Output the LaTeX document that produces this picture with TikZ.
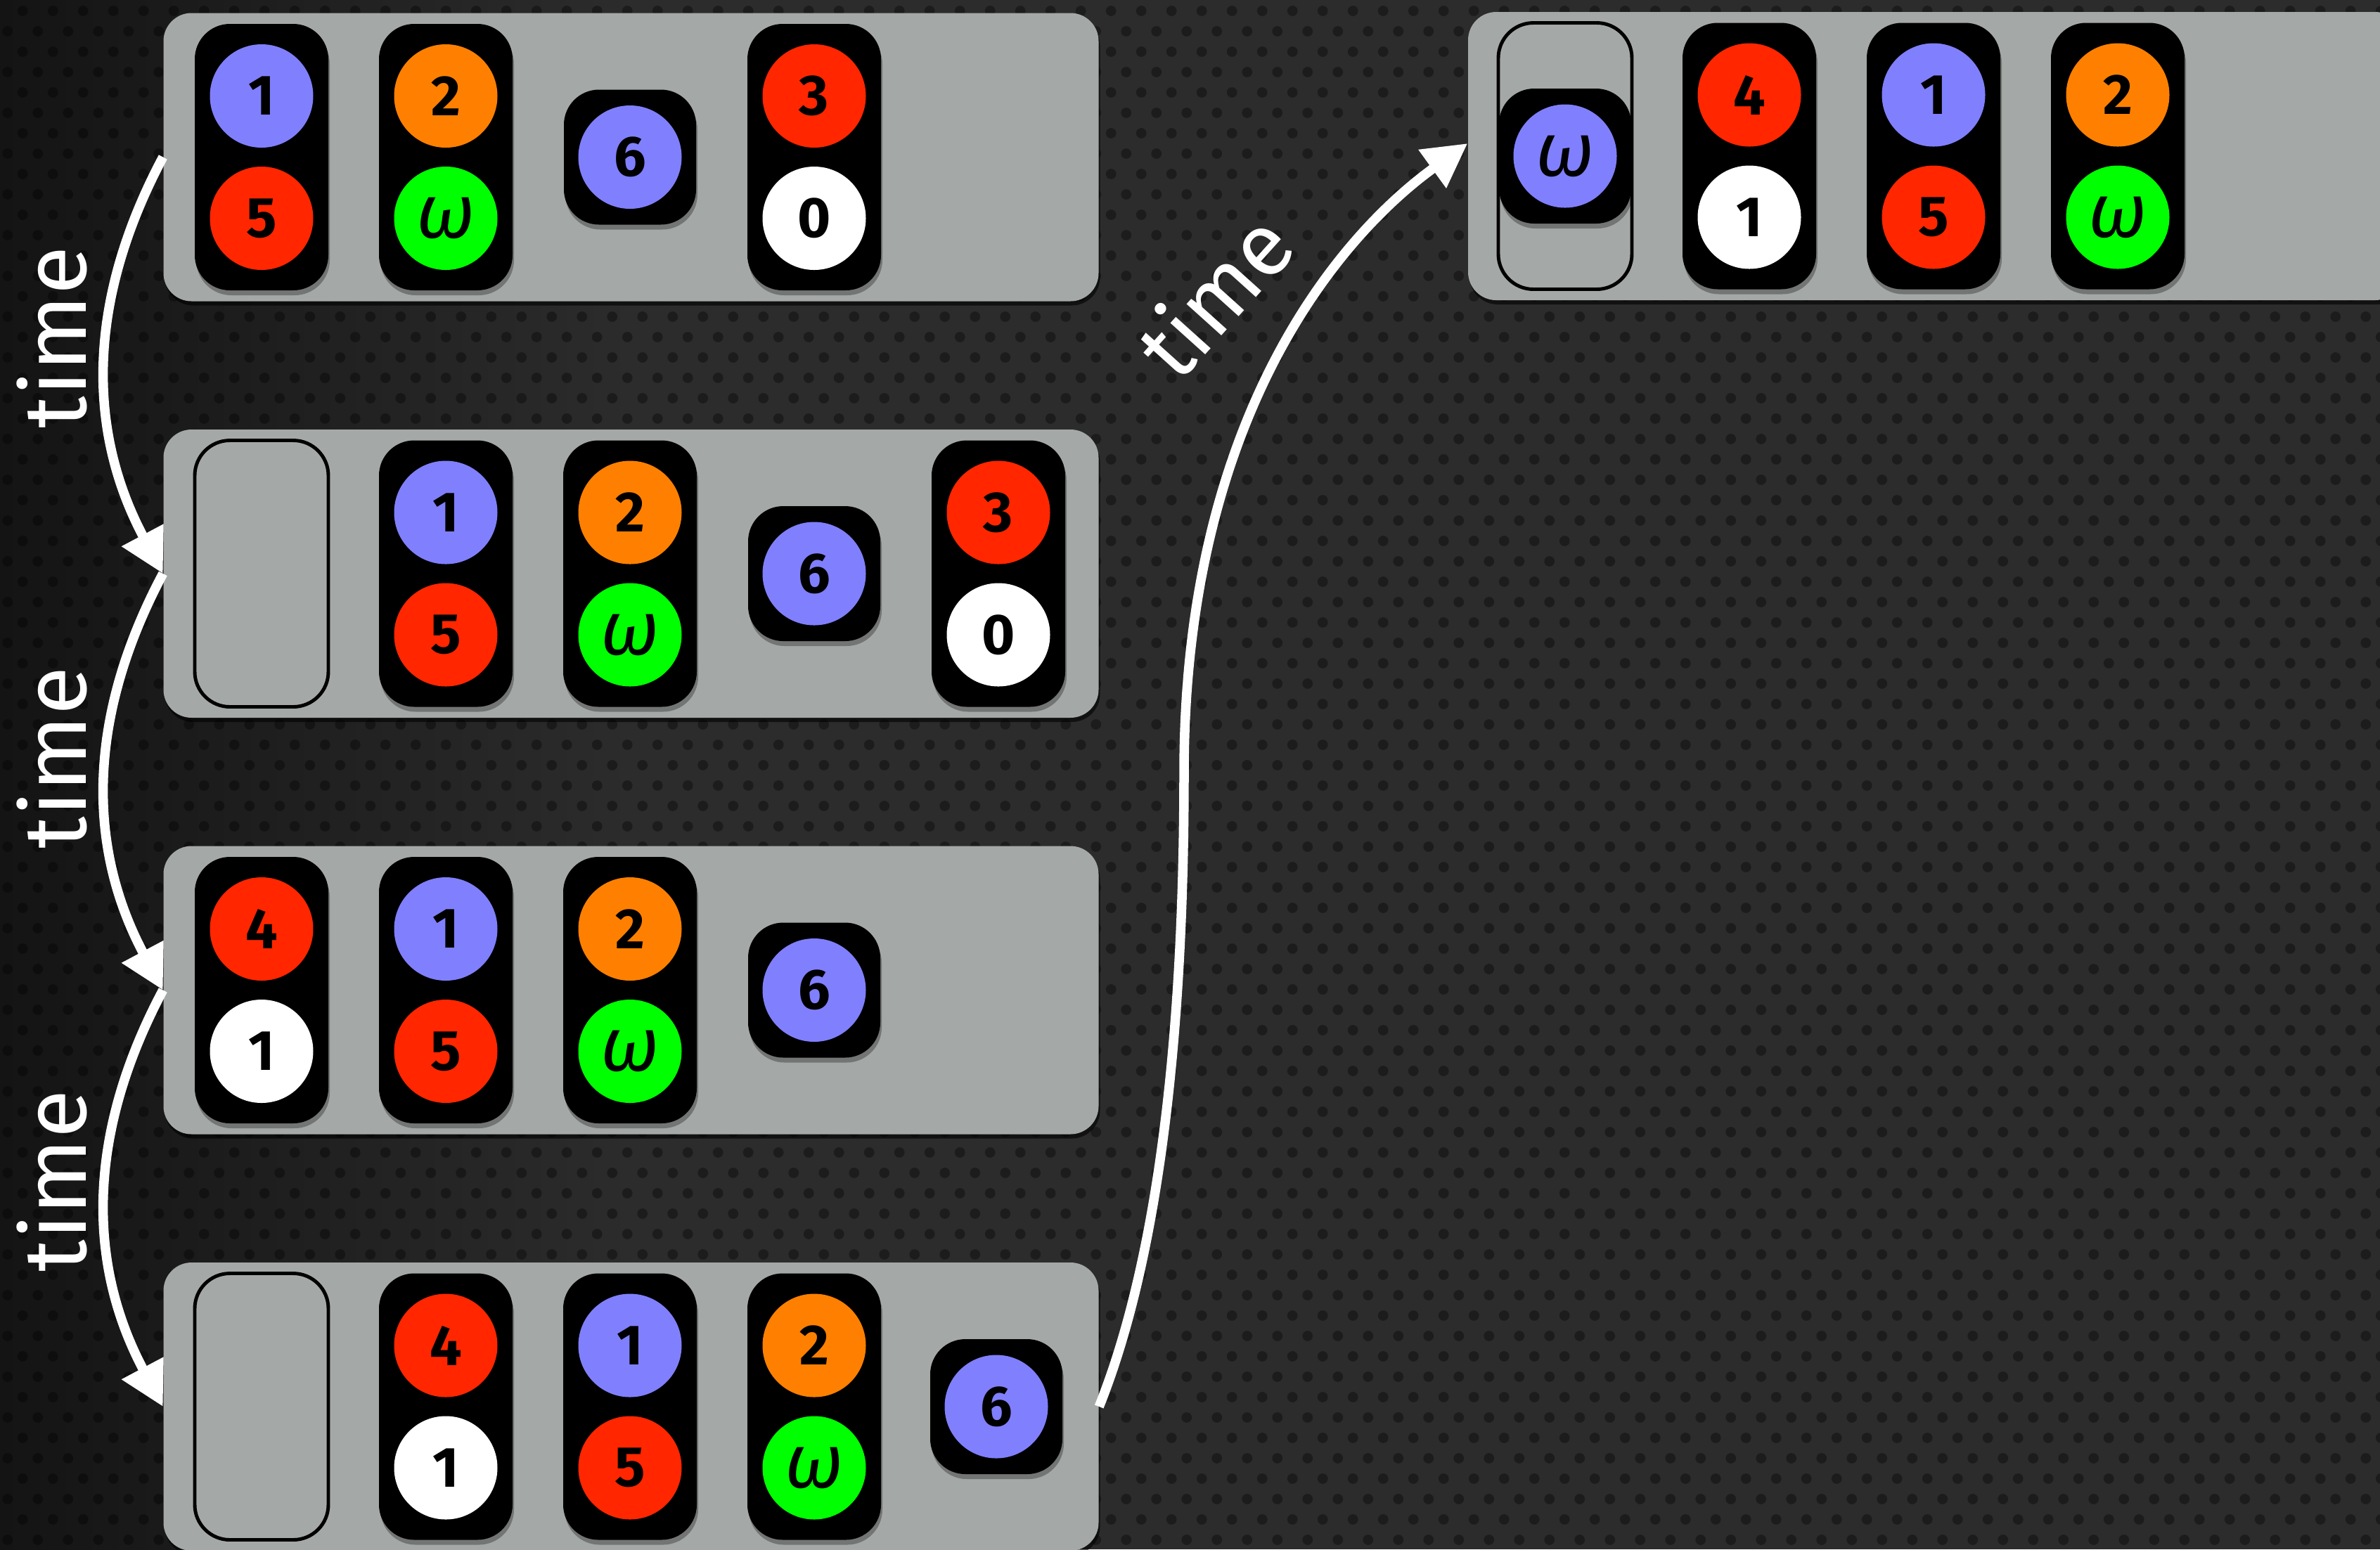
\documentclass[tikz,border=0pt]{standalone}
\usepackage{fontspec}
\setmainfont{Fira Sans}
\usetikzlibrary{positioning}
\usetikzlibrary{shadows, arrows.meta, patterns}

\definecolor{bgdark}{RGB}{20,20,20}
\definecolor{bgmid}{RGB}{44,44,44}
\definecolor{panelgray}{RGB}{164,168,166}
\definecolor{lav}{RGB}{128,128,255}
\definecolor{tomato}{RGB}{255,38,0}
\definecolor{amber}{RGB}{255,128,0}
\definecolor{lime}{RGB}{0,255,0}

\pgfdeclarepatternformonly{holes}{\pgfqpoint{0pt}{0pt}}{\pgfqpoint{12.23pt}{16.5pt}}{\pgfqpoint{12.23pt}{16.5pt}}{
\pgfpathcircle{\pgfqpoint{3.06pt}{4.13pt}}{2.1pt}
\pgfpathcircle{\pgfqpoint{9.17pt}{12.38pt}}{2.1pt}
\pgfusepath{fill}}

\newcommand{\om}{{\fontsize{31}{31}\selectfont\mdseries\itshape ω}}

\tikzset{
panel/.style={fill=panelgray, rounded corners=0.4cm, minimum width=13.3cm, minimum height=4.1cm, inner sep=0pt, drop shadow={shadow xshift=0.02cm, shadow yshift=-0.06cm, opacity=0.6, fill=black}},
tube/.style={fill=black, rounded corners=0.5cm, minimum width=1.9cm, minimum height=3.79cm, inner sep=0pt, drop shadow={shadow xshift=0.02cm, shadow yshift=-0.07cm, opacity=0.3, fill=black}},
chip/.style={tube, minimum width=1.88cm, minimum height=1.92cm},
hole/.style={draw=black, line width=1.4pt, rounded corners=0.5cm, minimum width=1.9cm, minimum height=3.79cm, inner sep=0pt},
ball/.style={circle, minimum size=1.47cm, inner sep=0pt, text=black, font=\fontsize{23}{23}\selectfont\bfseries},
flow/.style={draw=white, line width=0.135cm, -{Triangle[length=0.62cm, width=0.64cm]}},
tlabel/.style={text=white, font=\fontsize{36}{36}\selectfont, inner sep=0pt, anchor=base}
}

\begin{document}
\begin{tikzpicture}
\useasboundingbox (0,0) rectangle (33.85,-22.04);
\clip (0,0) rectangle (33.85,-22.04);
\fill[bgmid] (0,0) rectangle (33.85,-22.04);
\shade[left color=bgdark, right color=bgmid] (0,0) rectangle (9,-22.04);
\fill[pattern=holes, pattern color=black, fill opacity=0.35] (0,0) rectangle (33.85,-22.04);

\node[panel] (P1) at (8.975,-2.235) {};
\node[panel] (P2) at (8.975,-8.16) {};
\node[panel] (P3) at (8.975,-14.085) {};
\node[panel] (P4) at (8.975,-20.01) {};
\node[panel] (P5) at (27.53,-2.22) {};

\node[tube] (P1a) at (3.72,-2.235) {};
\node[ball, fill=lav] (P1a1) at ([yshift=0.87cm]P1a.center) {1};
\node[ball, fill=tomato] (P1a2) at ([yshift=-0.87cm]P1a.center) {5};
\node[tube] (P1b) at (6.34,-2.235) {};
\node[ball, fill=amber] (P1b1) at ([yshift=0.87cm]P1b.center) {2};
\node[ball, fill=lime] (P1b2) at ([yshift=-0.87cm]P1b.center) {\om};
\node[chip] (P1c) at (8.96,-2.235) {};
\node[ball, fill=lav] (P1c1) at (P1c.center) {6};
\node[tube] (P1d) at (11.58,-2.235) {};
\node[ball, fill=tomato] (P1d1) at ([yshift=0.87cm]P1d.center) {3};
\node[ball, fill=white] (P1d2) at ([yshift=-0.87cm]P1d.center) {0};

\node[hole] (P2a) at (3.72,-8.16) {};
\node[tube] (P2b) at (6.34,-8.16) {};
\node[ball, fill=lav] (P2b1) at ([yshift=0.87cm]P2b.center) {1};
\node[ball, fill=tomato] (P2b2) at ([yshift=-0.87cm]P2b.center) {5};
\node[tube] (P2c) at (8.96,-8.16) {};
\node[ball, fill=amber] (P2c1) at ([yshift=0.87cm]P2c.center) {2};
\node[ball, fill=lime] (P2c2) at ([yshift=-0.87cm]P2c.center) {\om};
\node[chip] (P2d) at (11.58,-8.16) {};
\node[ball, fill=lav] (P2d1) at (P2d.center) {6};
\node[tube] (P2e) at (14.20,-8.16) {};
\node[ball, fill=tomato] (P2e1) at ([yshift=0.87cm]P2e.center) {3};
\node[ball, fill=white] (P2e2) at ([yshift=-0.87cm]P2e.center) {0};

\node[tube] (P3a) at (3.72,-14.085) {};
\node[ball, fill=tomato] (P3a1) at ([yshift=0.87cm]P3a.center) {4};
\node[ball, fill=white] (P3a2) at ([yshift=-0.87cm]P3a.center) {1};
\node[tube] (P3b) at (6.34,-14.085) {};
\node[ball, fill=lav] (P3b1) at ([yshift=0.87cm]P3b.center) {1};
\node[ball, fill=tomato] (P3b2) at ([yshift=-0.87cm]P3b.center) {5};
\node[tube] (P3c) at (8.96,-14.085) {};
\node[ball, fill=amber] (P3c1) at ([yshift=0.87cm]P3c.center) {2};
\node[ball, fill=lime] (P3c2) at ([yshift=-0.87cm]P3c.center) {\om};
\node[chip] (P3d) at (11.58,-14.085) {};
\node[ball, fill=lav] (P3d1) at (P3d.center) {6};

\node[hole] (P4a) at (3.72,-20.01) {};
\node[tube] (P4b) at (6.34,-20.01) {};
\node[ball, fill=tomato] (P4b1) at ([yshift=0.87cm]P4b.center) {4};
\node[ball, fill=white] (P4b2) at ([yshift=-0.87cm]P4b.center) {1};
\node[tube] (P4c) at (8.96,-20.01) {};
\node[ball, fill=lav] (P4c1) at ([yshift=0.87cm]P4c.center) {1};
\node[ball, fill=tomato] (P4c2) at ([yshift=-0.87cm]P4c.center) {5};
\node[tube] (P4d) at (11.58,-20.01) {};
\node[ball, fill=amber] (P4d1) at ([yshift=0.87cm]P4d.center) {2};
\node[ball, fill=lime] (P4d2) at ([yshift=-0.87cm]P4d.center) {\om};
\node[chip] (P4e) at (14.17,-20.01) {};
\node[ball, fill=lav] (P4e1) at (P4e.center) {6};

\node[hole] (P5a) at (22.26,-2.22) {};
\node[chip] (P5w) at (22.26,-2.22) {};
\node[ball, fill=lav] (P5w1) at (P5w.center) {\om};
\node[tube] (P5b) at (24.88,-2.22) {};
\node[ball, fill=tomato] (P5b1) at ([yshift=0.87cm]P5b.center) {4};
\node[ball, fill=white] (P5b2) at ([yshift=-0.87cm]P5b.center) {1};
\node[tube] (P5c) at (27.50,-2.22) {};
\node[ball, fill=lav] (P5c1) at ([yshift=0.87cm]P5c.center) {1};
\node[ball, fill=tomato] (P5c2) at ([yshift=-0.87cm]P5c.center) {5};
\node[tube] (P5d) at (30.12,-2.22) {};
\node[ball, fill=amber] (P5d1) at ([yshift=0.87cm]P5d.center) {2};
\node[ball, fill=lime] (P5d2) at ([yshift=-0.87cm]P5d.center) {\om};

\draw[flow] (P1.west) to[out=242,in=118] (P2.west);
\draw[flow] (P2.west) to[out=242,in=118] (P3.west);
\draw[flow] (P3.west) to[out=242,in=118] (P4.west);
\coordinate (bend) at (16.84,-11.00);
\draw[flow] (P4.east) .. controls +(0.79,1.97) and +(0,-4.0) .. (bend) .. controls +(0,5.0) and +(-1.88,-1.36) .. ([yshift=0.18cm]P5.west);

\node[tlabel, rotate=90] (T1) at (1.22,-4.80) {time};
\node[tlabel, rotate=90] (T2) at (1.22,-10.78) {time};
\node[tlabel, rotate=90] (T3) at (1.22,-16.80) {time};
\node[tlabel, rotate=48] (T4) at (17.62,-4.51) {time};
\end{tikzpicture}
\end{document}
